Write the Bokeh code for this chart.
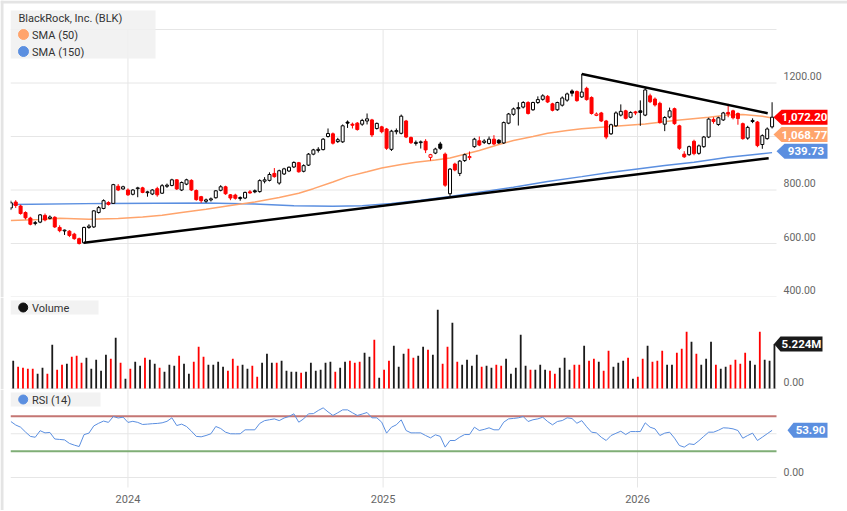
import datetime as dt
from bokeh.plotting import figure
from bokeh.layouts import column
from bokeh.models import Range1d, ColumnDataSource
from bokeh.core.properties import value
from bokeh.embed import file_html
from bokeh.resources import INLINE

# ---------------- data (weekly candles, first week Monday 2023-07-17) ----------------
first_week = dt.datetime(2023, 7, 17)

opens = [733, 755, 740, 716, 695, 675, 680, 705, 694, 698,
         660, 647, 646, 635, 618, 603, 660, 662, 716, 731,
         753, 750, 814, 804, 800, 784, 805, 808, 790, 785,
         805, 788, 814, 817, 838, 800, 822, 836, 798, 775,
         758, 763, 771, 799, 812, 782, 781, 768, 770, 793,
         797, 794, 833, 836, 862, 826, 860, 871, 886, 902,
         870, 893, 934, 948, 951, 1000, 1010, 981, 980, 1054,
         1046, 1050, 1046, 1058, 1062, 1030, 1036, 1028, 952, 1018,
         1012, 1058, 996, 974, 977, 982, 922, 938, 972, 934,
         786, 897, 862, 910, 921, 962, 984, 978, 974, 990,
         986, 976, 1050, 1083, 1104, 1110, 1127, 1100, 1127, 1139,
         1150, 1122, 1100, 1117, 1136, 1170, 1168, 1148, 1180, 1146,
         1079, 1088, 1058, 1010, 1040, 1080, 1096, 1072, 1092, 1096,
         1080, 1152, 1140, 1124, 1046, 1073, 1104, 1040, 934, 932,
         982, 937, 962, 998, 1064, 1045, 1062, 1090, 1096, 1086,
         1048, 994, 1056, 1054, 970, 992, 1036]
highs = [760, 762, 745, 720, 700, 684, 710, 712, 705, 702,
         668, 652, 650, 640, 622, 663, 672, 725, 740, 765,
         758, 823, 822, 816, 806, 803, 812, 812, 797, 803,
         812, 822, 824, 842, 840, 832, 842, 840, 802, 778,
         768, 772, 800, 818, 816, 785, 786, 776, 794, 800,
         802, 840, 848, 866, 882, 876, 883, 888, 907, 905,
         896, 938, 954, 960, 994, 1030, 1015, 995, 1045, 1060,
         1052, 1054, 1066, 1086, 1066, 1052, 1040, 1032, 1025, 1030,
         1082, 1062, 1000, 985, 985, 990, 935, 958, 980, 940,
         882, 902, 912, 936, 944, 995, 1000, 990, 1000, 1005,
         990, 1056, 1088, 1108, 1128, 1132, 1132, 1130, 1150, 1158,
         1155, 1126, 1130, 1150, 1164, 1176, 1172, 1234, 1186, 1150,
         1090, 1092, 1062, 1048, 1094, 1120, 1100, 1094, 1096, 1135,
         1182, 1160, 1146, 1130, 1076, 1108, 1108, 1044, 945, 966,
         988, 970, 1002, 1070, 1072, 1074, 1092, 1122, 1100, 1090,
         1052, 1040, 1068, 1058, 1008, 1034, 1128]
lows = [725, 733, 708, 690, 668, 668, 676, 683, 690, 658,
        642, 632, 624, 614, 596, 598, 655, 658, 712, 728,
        742, 748, 796, 801, 778, 780, 773, 788, 775, 781,
        775, 785, 808, 814, 800, 796, 818, 796, 760, 752,
        752, 757, 768, 795, 782, 762, 764, 760, 766, 786,
        788, 790, 825, 832, 846, 820, 856, 867, 882, 865,
        866, 890, 930, 940, 948, 996, 970, 976, 976, 1032,
        1030, 1022, 1040, 1045, 998, 1026, 1012, 950, 946, 1008,
        1008, 994, 972, 966, 955, 938, 910, 934, 950, 812,
        776, 870, 852, 905, 912, 958, 964, 972, 970, 968,
        972, 972, 1046, 1078, 1041, 1105, 1082, 1096, 1122, 1134,
        1125, 1094, 1096, 1112, 1130, 1150, 1130, 1144, 1134, 1082,
        1076, 1054, 990, 1006, 1036, 1075, 1064, 1068, 1080, 1040,
        1076, 1125, 1112, 1048, 1020, 1068, 1044, 950, 920, 928,
        930, 932, 958, 994, 1048, 1040, 1058, 1072, 1064, 1044,
        988, 988, 1050, 960, 954, 988, 1030]
closes = [752, 742, 712, 696, 672, 678, 707, 688, 699, 662,
          648, 650, 630, 618, 600, 660, 665, 722, 734, 760,
          746, 820, 800, 812, 782, 800, 808, 791, 793, 800,
          782, 816, 818, 838, 804, 828, 838, 800, 764, 760,
          763, 767, 797, 812, 786, 770, 769, 772, 791, 789,
          793, 835, 838, 858, 850, 872, 879, 885, 903, 868,
          891, 934, 950, 952, 990, 1011, 975, 988, 1040, 1050,
          1042, 1026, 1060, 1066, 1006, 1049, 1018, 956, 1020, 1022,
          1076, 998, 977, 978, 980, 950, 932, 953, 956, 818,
          878, 875, 908, 932, 925, 990, 968, 983, 990, 972,
          976, 1052, 1084, 1103, 1108, 1127, 1086, 1127, 1138, 1152,
          1129, 1098, 1127, 1144, 1159, 1162, 1134, 1166, 1138, 1086,
          1084, 1058, 998, 1044, 1088, 1094, 1068, 1090, 1088, 1090,
          1174, 1130, 1118, 1052, 1071, 1096, 1048, 956, 924, 962,
          936, 965, 998, 1065, 1056, 1070, 1088, 1084, 1070, 1067,
          992, 1034, 1060, 966, 1003, 1028, 1072.2]
volumes_m = [3.26, 2.55, 2.44, 2.32, 2.32, 1.73, 2.44, 1.73, 5.14, 2.20,
             2.79, 2.91, 3.73, 3.85, 3.02, 3.61, 2.32, 3.38, 2.08, 3.97,
             3.50, 5.97, 3.02, 1.14, 2.32, 3.14, 2.67, 3.61, 3.38, 2.91,
             2.44, 1.97, 2.79, 2.67, 3.85, 2.91, 1.73, 3.14, 4.91, 3.73,
             2.79, 2.79, 3.14, 2.55, 2.08, 3.50, 2.67, 2.79, 2.32, 2.67,
             1.38, 3.02, 4.08, 3.02, 3.02, 3.26, 2.08, 1.97, 1.97, 1.85,
             1.97, 3.02, 2.08, 2.20, 3.02, 3.14, 1.97, 2.43, 3.14, 3.26,
             3.02, 3.14, 4.20, 3.73, 5.73, 1.26, 2.20, 3.26, 5.02, 2.55,
             4.08, 4.67, 3.61, 3.85, 4.91, 4.55, 3.97, 9.26, 2.91, 4.91,
             7.73, 3.14, 2.79, 3.38, 2.67, 3.97, 2.55, 2.67, 2.43, 2.79,
             2.67, 3.50, 1.73, 2.43, 6.32, 2.67, 2.20, 2.20, 2.79, 2.20,
             2.08, 1.73, 2.45, 3.63, 2.20, 2.79, 2.79, 5.02, 3.26, 3.50,
             3.14, 2.08, 4.44, 2.55, 3.02, 3.26, 3.61, 1.14, 1.38, 3.50,
             5.02, 3.14, 3.26, 4.44, 2.79, 2.79, 4.20, 4.67, 6.67, 5.50,
             4.08, 2.79, 3.50, 5.50, 2.79, 2.32, 2.55, 2.79, 3.38, 2.91,
             4.20, 3.26, 2.79, 6.67, 3.38, 3.26, 5.224]
rsi14 = [64, 60, 57.5, 52, 47, 46, 53.5, 51, 51.5, 44,
         43.5, 43, 39, 37, 35.4, 49, 50.7, 59, 62, 64.5,
         63, 69.7, 68, 69, 63, 64.2, 63, 60.6, 61, 61.5,
         61.8, 62.5, 64.2, 68.2, 59.4, 61, 58.3, 53, 47, 46.5,
         48, 50, 58.3, 56, 51.8, 50, 49.9, 50, 54.5, 54.5,
         54.5, 61.8, 65, 66, 67, 65, 68, 69.7, 72.8, 63.2,
         67, 72.8, 73, 76.6, 79.6, 75, 70.9, 74, 77.3, 77.3,
         74, 70.9, 72.5, 74.3, 68.2, 68.2, 63.2, 50.7, 57.5, 60.2,
         65.9, 53.7, 51, 51, 51, 48, 45.3, 48.8, 47, 34.7,
         42.3, 42.3, 46.1, 49.1, 49.1, 57.5, 53.7, 55, 56.8, 54.5,
         54.5, 63.2, 67, 67.5, 68.2, 69.7, 64, 66, 67, 68.9,
         64, 60.2, 64, 65.1, 68.2, 67.4, 62, 65, 58, 51.8,
         51, 46, 42.3, 48, 50.5, 52.9, 49.1, 52.5, 52.5, 52.5,
         62.5, 57.5, 55.6, 48, 50.7, 51.8, 45, 36.6, 34.7, 38.5,
         37.7, 42, 47, 51.8, 51.8, 54, 56.8, 56.5, 55.6, 53.7,
         44.9, 48, 50.7, 42.3, 46.1, 50, 53.9]

sma50_weeks = [0, 6, 10, 16, 22, 27, 31, 35, 40, 45, 50, 55, 59, 62, 66, 69, 73, 76, 80, 83,
               87, 90, 96, 100, 103, 107, 110, 114, 117, 123, 130, 136, 143, 147, 150, 154, 156]
sma50_vals = [686, 690, 694, 691, 693, 699, 706, 716, 728, 742, 755, 772, 788, 805, 830, 850, 868, 882, 895, 904,
              912, 920, 948, 970, 985, 1000, 1012, 1022, 1029, 1037, 1047, 1060, 1072, 1080, 1082, 1076, 1068.77]
sma150_weeks = [0, 20, 40, 50, 58, 66, 72, 78, 84, 90, 96, 103, 110, 117, 123, 128, 134, 140, 147, 152, 156]
sma150_vals = [746, 750, 751, 748, 741, 739, 741, 750, 762, 776, 792, 810, 832, 850, 866, 878, 892, 904, 922, 932, 939.73]

upper_trend_weeks = [117, 155.1]
upper_trend_prices = [1234, 1087]
lower_trend_weeks = [15, 155.3]
lower_trend_prices = [603, 919]

year_ticks = [dt.datetime(2024, 1, 1), dt.datetime(2025, 1, 1), dt.datetime(2026, 1, 1)]
year_labels = ["2024", "2025", "2026"]
price_label_ticks = [400, 600, 800, 1200]
price_label_texts = ["400.00", "600.00", "800.00", "1200.00"]
price_grid_ticks = [400, 600, 800, 1000, 1200, 1400]
zero_label_text = "0.00"

title_text = "BlackRock, Inc. (BLK)"
sma50_label = "SMA (50)"
sma150_label = "SMA (150)"
volume_label = "Volume"
rsi_label = "RSI (14)"
close_tag = "1,072.20"
sma50_tag = "1,068.77"
sma150_tag = "939.73"
volume_tag = "5.224M"
rsi_tag = "53.90"

# ---------------- layout constants (page pixels) ----------------
EPOCH = dt.datetime(1970, 1, 1)


def ms(d):
    return (d - EPOCH).total_seconds() * 1000.0


W = 847
DATA_L, DATA_R = 10, 776          # plotting area inside the full-width frame
PX_PER_DAY = 0.6971
MSPP = 86400000.0 / PX_PER_DAY
x_start = dt.datetime(2023, 7, 16, 12)
XS = ms(x_start)
XE = XS + (DATA_R - DATA_L) * MSPP
xr = Range1d(XS - DATA_L * MSPP, XS + (W - DATA_L) * MSPP)

H1, H2, H3 = 297, 92, 121
Y1, Y2, Y3 = 0, H1, H1 + H2
PPP = 200 / 53.5
yhi = 1000 + 136 * PPP
ylo = yhi - H1 * PPP
VPP = 0.1177
vlo = -1 * VPP
vhi = vlo + H2 * VPP
RPP = 1 / 0.875
rhi = (477 - Y3) * RPP
rlo = rhi - H3 * RPP


def px_x(px):
    return XS + (px - DATA_L) * MSPP


def py1(py):
    return yhi - (py - Y1) * PPP


def py2(py):
    return vhi - (py - Y2) * VPP


def py3(py):
    return rhi - (py - Y3) * RPP


FONT = "Roboto"
GRID = "#e6e6e6"
EDGE = "#e4e4e4"
RED = "#ff0000"
BLACK = "#000000"
ORANGE = "#ffa46c"
BLUE = "#5b8fe0"


def make_fig(h, yr):
    p = figure(width=W, height=h, x_range=xr, y_range=yr, x_axis_type="datetime",
               x_axis_location=None, y_axis_location=None, toolbar_location=None,
               output_backend="svg", min_border_left=0, min_border_right=0,
               min_border_top=0, min_border_bottom=0, outline_line_color=None,
               background_fill_color="white", border_fill_color="white")
    p.xgrid.grid_line_color = None
    p.ygrid.grid_line_color = None
    return p


def hlines(p, ys, color=GRID, width=1):
    p.segment(x0=[XS] * len(ys), y0=ys, x1=[XE] * len(ys), y1=ys,
              line_color=color, line_width=width, level="underlay")


def vlines(p, y0, y1):
    p.segment(x0=year_ticks, y0=[y0] * len(year_ticks), x1=year_ticks, y1=[y1] * len(year_ticks),
              line_color=GRID, line_width=1, level="underlay")


def axis_labels(p, ys, texts, shift):
    p.text(x=[XE + 7 * MSPP] * len(ys), y=[v + shift for v in ys], text=texts,
           text_font=value(FONT), text_font_size="10.5px", text_color="#666666",
           text_baseline="middle", text_align="left")


def tag(p, yc, ypp, text, bg, tip_px, box_l, box_r, half=7.5):
    xt, xl, xrt = px_x(tip_px), px_x(box_l), px_x(box_r)
    h = half * ypp
    p.patches(xs=[[xt, xl, xrt, xrt, xl]], ys=[[yc, yc + h, yc + h, yc - h, yc - h]],
              fill_color=bg, line_color=None)
    p.text(x=[px_x((box_l + box_r) / 2)], y=[yc], text=[text], text_font=value(FONT),
           text_font_style="bold", text_font_size="11.5px", text_color="white",
           text_baseline="middle", text_align="center")


def legend_box(p, x0, x1, yt, yb):
    p.quad(left=[px_x(x0)], right=[px_x(x1)], top=[yt], bottom=[yb],
           fill_color="#f0f0f0", fill_alpha=0.85, line_color=None)


def text(p, px, y, s):
    p.text(x=[px_x(px)], y=[y], text=[s], text_baseline="middle", text_align="left",
           text_font=value(FONT), text_font_size="11px", text_color="#333333")


def left_edge(p, ytop, ybot):
    # white margin left of the plotting area, plus the light frame edge
    p.quad(left=[px_x(3)], right=[px_x(DATA_L)], top=[ytop], bottom=[ybot], fill_color="white", line_color=None)
    p.quad(left=[px_x(0)], right=[px_x(3)], top=[ytop], bottom=[ybot], fill_color=EDGE, line_color=None)


# ---------------- derived styling ----------------
N = len(closes)
dates = [first_week + dt.timedelta(weeks=i) for i in range(N)]
col = [BLACK if i == 0 or closes[i] >= closes[i - 1] else RED for i in range(N)]
fill = ["#ffffff" if closes[i] > opens[i] else col[i] for i in range(N)]
vcol = [RED if closes[i] < opens[i] else "#1a1a1a" for i in range(N)]
src = ColumnDataSource(dict(x=dates, o=opens, h=highs, l=lows, c=closes,
                            top=[max(a, b) for a, b in zip(opens, closes)],
                            bot=[min(a, b) for a, b in zip(opens, closes)],
                            col=col, fill=fill))

# ---------------- price panel ----------------
p1 = make_fig(H1, Range1d(ylo, yhi))
hlines(p1, price_grid_ticks)
vlines(p1, ylo, price_grid_ticks[-1])
legend_box(p1, 10, 155, py1(10), py1(58))
p1.scatter(x=[px_x(23)] * 2, y=[py1(34), py1(51)], size=10, color=[ORANGE, BLUE])
text(p1, 18, py1(17.5), title_text)
text(p1, 31.5, py1(34.5), sma50_label)
text(p1, 31.5, py1(51.5), sma150_label)

p1.line([first_week + dt.timedelta(weeks=w) for w in sma150_weeks], sma150_vals, line_color=BLUE, line_width=1.5)
p1.line([first_week + dt.timedelta(weeks=w) for w in sma50_weeks], sma50_vals, line_color=ORANGE, line_width=1.5)
p1.segment(x0="x", y0="l", x1="x", y1="h", line_color="col", line_width=1, source=src)
p1.vbar(x="x", width=3 * MSPP, top="top", bottom="bot", fill_color="fill", line_color="col",
        line_width=1, source=src)
p1.line([first_week + dt.timedelta(weeks=w) for w in upper_trend_weeks], upper_trend_prices,
        line_color="black", line_width=2.5)
p1.line([first_week + dt.timedelta(weeks=w) for w in lower_trend_weeks], lower_trend_prices,
        line_color="black", line_width=2.5)
axis_labels(p1, price_label_ticks, price_label_texts, 7 * PPP)
tag(p1, closes[-1], PPP, close_tag, RED, 773, 781, 827)
tag(p1, sma50_vals[-1] - 16.5 * PPP, PPP, sma50_tag, ORANGE, 773, 781, 827)
tag(p1, sma150_vals[-1] + 1.4 * PPP, PPP, sma150_tag, BLUE, 776, 784, 827)
left_edge(p1, yhi, ylo)
p1.quad(left=[px_x(0)], right=[px_x(W)], top=[yhi], bottom=[py1(3)], fill_color=EDGE, line_color=None)

# ---------------- volume panel ----------------
p2 = make_fig(H2, Range1d(vlo, vhi))
hlines(p2, [0])
vlines(p2, vlo, vhi)
vdates = [d + dt.timedelta(days=3.4) for d in dates]
p2.vbar(x=vdates, top=volumes_m, bottom=0, width=1.8 * MSPP, fill_color=vcol, line_color=None)
legend_box(p2, 10, 98, py2(300), py2(314))
p2.scatter(x=[px_x(22.7)], y=[py2(307)], size=9, color="#111111")
text(p2, 31.5, py2(307.5), volume_label)
axis_labels(p2, [0], [zero_label_text], 7 * VPP)
tag(p2, volumes_m[-1], VPP, volume_tag, "#1a1a1a", 773.5, 780, 822)
left_edge(p2, vhi, vlo)

# ---------------- RSI panel ----------------
p3 = make_fig(H3, Range1d(rlo, rhi))
hlines(p3, [0, 50])
vlines(p3, py3(487), rhi)
hlines(p3, [70], "#c47673", 2)
hlines(p3, [30], "#7fae76", 2)
p3.line(dates, rsi14, line_color=BLUE, line_width=1)
legend_box(p3, 10, 100, py3(392), py3(406))
p3.scatter(x=[px_x(22.7)], y=[py3(399)], size=9, color=BLUE)
text(p3, 31.5, py3(399.5), rsi_label)
axis_labels(p3, [0], [zero_label_text], 6 * RPP)
tag(p3, rsi14[-1], RPP, rsi_tag, BLUE, 787, 793, 827)
p3.text(x=year_ticks, y=[py3(498.5)] * len(year_ticks), text=year_labels, text_font=value(FONT),
        text_font_size="11px", text_color="#666666", text_baseline="middle", text_align="center")
left_edge(p3, rhi, rlo)

layout = column(p1, p2, p3, spacing=0)
open("out.html", "w").write(file_html(layout, INLINE))
